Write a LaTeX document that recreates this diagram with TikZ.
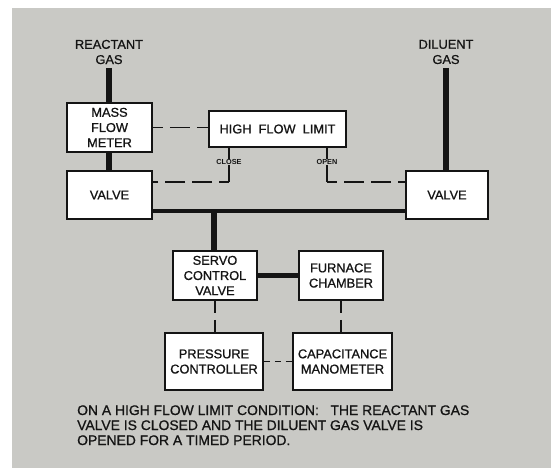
\documentclass[tikz,border=0pt]{standalone}
\usepackage{fontspec}
\setmainfont{Liberation Sans}
\newfontfamily\cadfont{Liberation Sans}[FakeBold=0.9]
\definecolor{bggray}{RGB}{201,201,197}
\definecolor{inkc}{RGB}{20,20,20}
\tikzset{
  blk/.style={draw=inkc, line width=1.6pt, fill=white, inner sep=0pt, align=center,
    font=\cadfont\fontsize{12.8}{15.2}\selectfont, text=inkc},
  pipe/.style={draw=inkc, line width=5.6pt},
  bus/.style={draw=inkc, line width=4.8pt},
  sig/.style={draw=inkc, line width=1.5pt},
  dsig/.style={draw=inkc, line width=1.5pt, dash pattern=on 20pt off 7pt, dash phase=10pt},
  lbl/.style={inner sep=0pt, align=center, font=\cadfont\fontsize{12.8}{15.2}\selectfont, text=inkc},
  tiny/.style={inner sep=0.5pt, fill=bggray, font=\bfseries\fontsize{7.3}{8}\selectfont, text=inkc},
  note/.style={inner sep=0pt, anchor=base west, font=\cadfont\fontsize{13.9}{15}\selectfont, text=inkc}
}
\begin{document}
\begin{tikzpicture}[x=1pt,y=-1pt]
\useasboundingbox (0,0) rectangle (551,468);
\fill[white] (0,0) rectangle (551,468);
\fill[bggray] (12,8) rectangle (551,468);

% labels
\node[lbl] (rg) at (109,52) {REACTANT\\GAS};
\node[lbl] (dg) at (446,52) {DILUENT\\GAS};

% boxes
\node[blk, minimum width=85pt, minimum height=49pt] (mfm) at (109.5,127.5) {MASS\\FLOW\\METER};
\node[blk, minimum width=137pt, minimum height=36pt] (hfl) at (277.5,129) {HIGH\ \ FLOW\ \ LIMIT};
\node[blk, minimum width=85pt, minimum height=48pt] (vl) at (109.5,195) {VALVE};
\node[blk, minimum width=82pt, minimum height=48pt] (vr) at (447,195) {VALVE};
\node[blk, minimum width=84pt, minimum height=49pt] (sv) at (215,275.5) {SERVO\\CONTROL\\VALVE};
\node[blk, minimum width=84pt, minimum height=49pt] (fc) at (341,275.5) {FURNACE\\CHAMBER};
\node[blk, minimum width=98pt, minimum height=57pt] (pc) at (214,361.5) {PRESSURE\\CONTROLLER};
\node[blk, minimum width=99pt, minimum height=57pt] (cm) at (342.5,361.5) {CAPACITANCE\\MANOMETER};

% coordinates
\coordinate (rgtop) at (109,68);
\coordinate (dgtop) at (446,68);
\coordinate (bus) at (214,211);
\coordinate (cc) at (229,182);
\coordinate (oc) at (327,182);

% thick gas lines
\draw[pipe] (rgtop) -- (rgtop |- mfm.north);
\draw[pipe] (mfm.south -| rgtop) -- (vl.north -| rgtop);
\draw[pipe] (dgtop) -- (dgtop |- vr.north);
\draw[bus] (vl.east |- bus) -- (vr.west |- bus);
\draw[pipe] (bus) -- (bus |- sv.north);
\draw[pipe] (sv.east) -- (fc.west);

% signal lines
\draw[dsig] (mfm.east) -- (mfm.east -| hfl.west);
\draw[sig] (hfl.south -| cc) -- (cc);
\draw[dsig] (cc) -- (cc -| vl.east);
\draw[sig] (hfl.south -| oc) -- (oc);
\draw[dsig] (oc) -- (oc -| vr.west);
\draw[dsig, dash pattern=on 12pt off 7pt, dash phase=0pt] (sv.south) -- (sv.south |- pc.north);
\draw[dsig, dash pattern=on 12pt off 7pt, dash phase=0pt] (fc.south) -- (fc.south |- cm.north);
\draw[dsig, dash pattern=on 6pt off 5pt, dash phase=0pt] (pc.east) -- (cm.west);

\node[tiny] (close) at (229,162) {CLOSE};
\node[tiny] (open) at (327,162) {OPEN};

% note
\node[note] (n1) at (77,415) {ON A HIGH FLOW LIMIT CONDITION:\ \ \ THE REACTANT GAS};
\node[note] (n2) at (77,430) {VALVE IS CLOSED AND THE DILUENT GAS VALVE IS};
\node[note] (n3) at (77,445) {OPENED FOR A TIMED PERIOD.};
\end{tikzpicture}
\end{document}
